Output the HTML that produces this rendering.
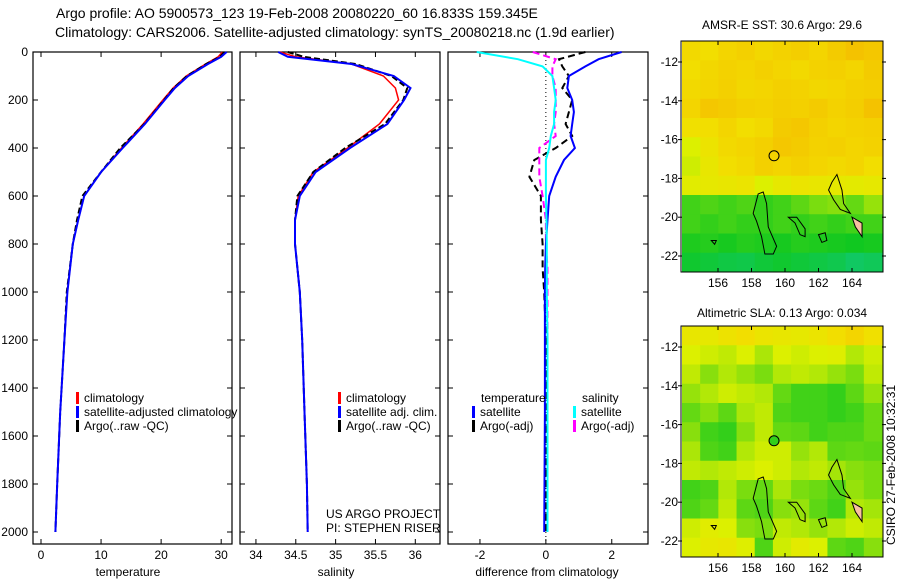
<!DOCTYPE html>
<html><head><meta charset="utf-8"><style>
html,body{margin:0;padding:0;background:#fff}
svg{display:block;font-family:"Liberation Sans",sans-serif}
text{font-size:12px;fill:#000}
</style></head><body>
<svg id="s" width="900" height="580" viewBox="0 0 900 580" xmlns="http://www.w3.org/2000/svg">
<text x="56" y="18" font-size="14" style="font-size:14px">Argo profile: AO 5900573_123 19-Feb-2008 20080220_60 16.833S 159.345E</text>
<text x="55" y="37" font-size="14" style="font-size:14px">Climatology: CARS2006. Satellite-adjusted climatology: synTS_20080218.nc (1.9d earlier)</text>
<text x="128" y="576" text-anchor="middle">temperature</text>
<text x="336" y="576" text-anchor="middle">salinity</text>
<text x="547" y="576" text-anchor="middle">difference from climatology</text>
<text x="326" y="518">US ARGO PROJECT</text>
<text x="326" y="532">PI: STEPHEN RISER</text>
<text transform="translate(895,465) rotate(-90)" text-anchor="middle">CSIRO 27-Feb-2008 10:32:31</text>
<text x="782" y="29" text-anchor="middle">AMSR-E SST: 30.6 Argo: 29.6</text>
<text x="782" y="317" text-anchor="middle">Altimetric SLA: 0.13 Argo: 0.034</text>
</svg>
<script>
// ---- profile data ----
const depths   = [0,20,50,100,150,200,300,400,500,600,700,800,1000,1200,1500,1800,2000];
const tempClim = [30.2,29.5,27.4,24.2,22.0,20.3,17.0,13.4,10.0,7.2,6.2,5.3,4.4,3.9,3.2,2.7,2.4];
const tempSat  = [30.9,30.0,27.8,24.5,22.3,20.6,17.3,13.6,10.0,7.2,6.2,5.3,4.4,3.9,3.2,2.7,2.4];
const tempArgo = [30.5,29.8,27.5,24.3,22.1,20.5,17.2,13.2,10.0,6.9,6.0,5.3,4.3,3.9,3.2,2.7,2.4];
const salClim  = [34.3,34.5,35.2,35.6,35.75,35.79,35.55,35.15,34.72,34.53,34.49,34.49,34.55,34.58,34.61,34.64,34.65];
const salSat   = [34.28,34.4,35.2,35.73,35.94,35.86,35.65,35.18,34.75,34.55,34.49,34.49,34.55,34.58,34.61,34.64,34.65];
const salArgo  = [34.4,34.6,35.25,35.7,35.9,35.85,35.62,35.12,34.72,34.52,34.49,34.49,34.55,34.58,34.61,34.64,34.65];
const dDepths  = [0,30,60,100,150,200,250,300,350,400,450,520,600,700,800,900,1000,1200,1500,2000];
const dTempSat = [2.3,1.6,1.2,0.7,0.65,0.8,0.85,0.8,0.75,0.88,0.55,0.3,0.1,0.05,0.0,-0.02,-0.03,-0.03,-0.03,-0.05];
const dTempArgo= [1.2,0.4,0.5,0.7,0.5,0.8,0.7,0.6,0.8,0.3,-0.35,-0.5,-0.15,-0.15,-0.1,-0.1,-0.05,0,0,0];
const dSalSat  = [-2.1,-0.85,-0.1,0.2,0.25,0.3,0.25,0.25,0.15,0.1,0.0,0.0,0.0,0.02,0.03,0.03,0.03,0.05,0.05,0.05];
const dSalArgo = [-0.4,0.3,0.2,0.2,0.3,0.3,0.3,0.25,0.3,-0.2,-0.2,-0.2,-0.1,0,0,0.05,0.05,0.05,0.05,0.05];
const depthTicks = [0,200,400,600,800,1000,1200,1400,1600,1800,2000];
const tempTicks = [0,10,20,30];
const salTicks = [34,34.5,35,35.5,36];
const diffTicks = [-2,0,2];
// ---- map data (rows top->bottom = lat -11..-23, cols lon 154..165), value 0=cyan..1=orange ----
const sstGrid = [
[0.82,0.80,0.84,0.86,0.83,0.85,0.87,0.84,0.88,0.92,0.90],
[0.80,0.83,0.85,0.84,0.86,0.84,0.82,0.85,0.86,0.84,0.88],
[0.82,0.84,0.86,0.83,0.84,0.86,0.85,0.83,0.84,0.86,0.87],
[0.84,0.90,0.88,0.86,0.85,0.87,0.86,0.88,0.85,0.87,0.92],
[0.78,0.80,0.84,0.80,0.82,0.88,0.90,0.86,0.84,0.85,0.86],
[0.62,0.75,0.82,0.84,0.86,0.90,0.88,0.85,0.86,0.84,0.85],
[0.60,0.72,0.80,0.82,0.86,0.84,0.86,0.84,0.82,0.84,0.80],
[0.66,0.70,0.72,0.74,0.62,0.70,0.74,0.72,0.70,0.68,0.70],
[0.40,0.42,0.40,0.42,0.38,0.40,0.44,0.48,0.50,0.45,0.52],
[0.40,0.38,0.40,0.38,0.38,0.40,0.38,0.40,0.38,0.40,0.40],
[0.35,0.36,0.34,0.36,0.35,0.34,0.36,0.35,0.34,0.33,0.34],
[0.30,0.28,0.26,0.25,0.28,0.30,0.28,0.26,0.24,0.20,0.22]];
const slaGrid = [
[0.72,0.70,0.76,0.80,0.74,0.72,0.70,0.74,0.80,0.84,0.78],
[0.62,0.60,0.58,0.62,0.55,0.62,0.60,0.62,0.64,0.56,0.60],
[0.58,0.50,0.56,0.52,0.48,0.56,0.58,0.56,0.52,0.48,0.58],
[0.52,0.56,0.60,0.58,0.56,0.45,0.40,0.40,0.38,0.44,0.52],
[0.45,0.50,0.44,0.55,0.58,0.42,0.40,0.40,0.38,0.40,0.46],
[0.50,0.40,0.38,0.50,0.58,0.45,0.44,0.40,0.42,0.42,0.46],
[0.55,0.42,0.40,0.56,0.60,0.60,0.52,0.56,0.44,0.45,0.44],
[0.58,0.56,0.58,0.60,0.62,0.60,0.56,0.58,0.54,0.50,0.48],
[0.40,0.42,0.56,0.48,0.45,0.55,0.48,0.46,0.42,0.52,0.48],
[0.42,0.45,0.58,0.44,0.42,0.50,0.52,0.44,0.40,0.56,0.54],
[0.60,0.66,0.62,0.50,0.48,0.58,0.56,0.52,0.56,0.60,0.58],
[0.62,0.70,0.72,0.64,0.42,0.60,0.68,0.62,0.44,0.42,0.50]];
const lonTicks=[156,158,160,162,164];
const latTicks=[-12,-14,-16,-18,-20,-22];

const NS="http://www.w3.org/2000/svg", S=document.getElementById('s');
function el(t,a,p){const e=document.createElementNS(NS,t);for(const k in a)e.setAttribute(k,a[k]);(p||S).appendChild(e);return e;}
const PT=52, PB=544, DMAX=2050;
const yD=d=>PT+d/DMAX*(PB-PT);
const panels=[{x0:33,x1:232,v0:-1.33,v1:31.8},{x0:240,x1:440,v0:33.8,v1:36.31},{x0:448,x1:648,v0:-2.97,v1:3.1}];
function xf(p){return v=>p.x0+(v-p.v0)/(p.v1-p.v0)*(p.x1-p.x0);}
function drawPanel(i,ticks,name){
 const p=panels[i],X=xf(p);
 const r=el('rect',{x:p.x0,y:PT,width:p.x1-p.x0,height:PB-PT,fill:'none',stroke:'#000','stroke-width':1.2});
 
 
 ticks.forEach(t=>{const x=X(t);
  el('line',{x1:x,x2:x,y1:PB,y2:PB-5,stroke:'#000'});el('line',{x1:x,x2:x,y1:PT,y2:PT+5,stroke:'#000'});
  const tx=el('text',{x:x,y:PB+15,'text-anchor':'middle'});tx.textContent=t;
  
  });
 depthTicks.forEach(d=>{const y=yD(d);
  el('line',{x1:p.x0,x2:p.x0+5,y1:y,y2:y,stroke:'#000'});el('line',{x1:p.x1,x2:p.x1-5,y1:y,y2:y,stroke:'#000'});
  if(i==0){const tx=el('text',{x:28,y:y+4,'text-anchor':'end'});tx.textContent=d;
   
   }});
 return X;
}
function line(X,vals,ds,color,w,dash,name){
 const pts=vals.map((v,k)=>X(v).toFixed(1)+','+yD(ds[k]).toFixed(1)).join(' ');
 const l=el('polyline',{points:pts,fill:'none',stroke:color,'stroke-width':w});
 if(dash)l.setAttribute('stroke-dasharray',dash);
 
 
}
let X=drawPanel(0,tempTicks,'temperature-panel');
line(X,tempClim,depths,'#f00',1.5,null,'temp-climatology-line');
line(X,tempArgo,depths,'#000',2,'6,3','temp-argo-line');
line(X,tempSat,depths,'#00f',2,null,'temp-satellite-line');
X=drawPanel(1,salTicks,'salinity-panel');
line(X,salClim,depths,'#f00',1.5,null,'sal-climatology-line');
line(X,salArgo,depths,'#000',2,'6,3','sal-argo-line');
line(X,salSat,depths,'#00f',2,null,'sal-satellite-line');
X=drawPanel(2,diffTicks,'difference-panel');
el('line',{x1:X(0),x2:X(0),y1:PT,y2:PB,stroke:'#000','stroke-dasharray':'1,3'});
line(X,dTempArgo,dDepths,'#000',2,'7,4','diff-temp-argo-line');
line(X,dSalArgo,dDepths,'#f0f',2,'7,4','diff-sal-argo-line');
line(X,dTempSat,dDepths,'#00f',2,null,'diff-temp-satellite-line');
line(X,dSalSat,dDepths,'#0ff',2,null,'diff-sal-satellite-line');
// legends
function leg(x,y,c,t,name){el('rect',{x:x,y:y-10,width:3,height:12,fill:c});const tx=el('text',{x:x+8,y:y});tx.textContent=t;
 
 }
leg(76,402,'#f00','climatology','legend-entry-climatology');
leg(76,416,'#00f','satellite-adjusted climatology','legend-entry-satellite');
leg(76,430,'#000','Argo(..raw -QC)','legend-entry-argo');
leg(338,402,'#f00','climatology','legend-entry-sal-climatology');
leg(338,416,'#00f','satellite adj. clim.','legend-entry-sal-satellite');
leg(338,430,'#000','Argo(..raw -QC)','legend-entry-sal-argo');
let tt=el('text',{x:481,y:402});tt.textContent='temperature';


tt=el('text',{x:582,y:402});tt.textContent='salinity';


leg(472,416,'#00f','satellite','legend-entry-diff-temp-sat');
leg(472,430,'#000','Argo(-adj)','legend-entry-diff-temp-argo');
leg(573,416,'#0ff','satellite','legend-entry-diff-sal-sat');
leg(573,430,'#f0f','Argo(-adj)','legend-entry-diff-sal-argo');
// maps
function cmap(v){const st=[[0,[16,200,200]],[0.33,[16,200,32]],[0.62,[220,240,0]],[0.8,[242,222,0]],[1,[245,175,0]]];
 for(let i=1;i<st.length;i++)if(v<=st[i][0]){const a=st[i-1],b=st[i],f=(v-a[0])/(b[0]-a[0]);
  return 'rgb('+a[1].map((c,k)=>Math.round(c+(b[1][k]-c)*f)).join(',')+')';}
 return 'rgb(245,175,0)';}
const MX0=682,MX1=882;
const lonX=l=>718+(l-156)*16.75;
function drawMap(grid,top,name){
 const bot=top+231,latY=l=>top+21+(-12-l)*19.4;
 const g=el('g',{});
 const rows=grid.length,cols=grid[0].length,cw=(MX1-MX0)/cols,ch=(bot-top)/rows;
 grid.forEach((r,i)=>r.forEach((v,j)=>{el('rect',{x:MX0+j*cw,y:top+i*ch,width:cw+0.5,height:ch+0.5,fill:cmap(v)},g);}));
 const isl=[[[158.4,-18.8],[158.7,-18.7],[158.9,-19.3],[159,-20.5],[159.5,-21.5],[159.3,-21.9],[158.8,-21.9],[158.6,-21],[158.3,-20.2],[158.1,-19.8]],
  [[160.2,-20],[160.7,-20],[161.2,-20.6],[161.2,-21],[160.9,-20.9],[160.6,-20.3]],
  [[162.8,-18.2],[163.1,-17.8],[163.4,-18.6],[163.5,-19.3],[163.9,-19.8],[163.3,-19.6],[162.9,-19.1],[162.6,-18.6]],
  [[162,-20.9],[162.4,-20.8],[162.5,-21.2],[162.2,-21.3]],[[155.6,-21.2],[155.9,-21.2],[155.8,-21.4]]];
 isl.forEach(poly=>el('polygon',{points:poly.map(p=>lonX(p[0])+','+latY(p[1])).join(' '),fill:'none',stroke:'#000','stroke-width':1},g));
 el('polygon',{points:[[164,-20],[164.6,-20.3],[164.6,-21],[164.2,-20.5]].map(p=>lonX(p[0])+','+latY(p[1])).join(' '),fill:'#f8c0a0',stroke:'#000'},g);
 const c=el('circle',{cx:lonX(159.345),cy:latY(-16.833),r:5,fill:name.startsWith('sst')?cmap(0.85):cmap(0.38),stroke:'#000'});
 
 el('rect',{x:MX0-1,y:top,width:MX1-MX0+2,height:bot-top,fill:'none',stroke:'#000'});
 lonTicks.forEach(l=>{const x=lonX(l);el('line',{x1:x,x2:x,y1:top,y2:top+4,stroke:'#000'});el('line',{x1:x,x2:x,y1:bot,y2:bot-4,stroke:'#000'});
  const t=el('text',{x:x,y:bot+15,'text-anchor':'middle'});t.textContent=l;
  
  });
 latTicks.forEach(l=>{const y=latY(l);el('line',{x1:MX0,x2:MX0-4,y1:y,y2:y,stroke:'#000'});el('line',{x1:MX1,x2:MX1+4,y1:y,y2:y,stroke:'#000'});
  const t=el('text',{x:MX0-4,y:y+4,'text-anchor':'end'});t.textContent=l;
  
  });
}
drawMap(sstGrid,41,'sst-map');
drawMap(slaGrid,326,'sla-map');
</script>
</body></html>
